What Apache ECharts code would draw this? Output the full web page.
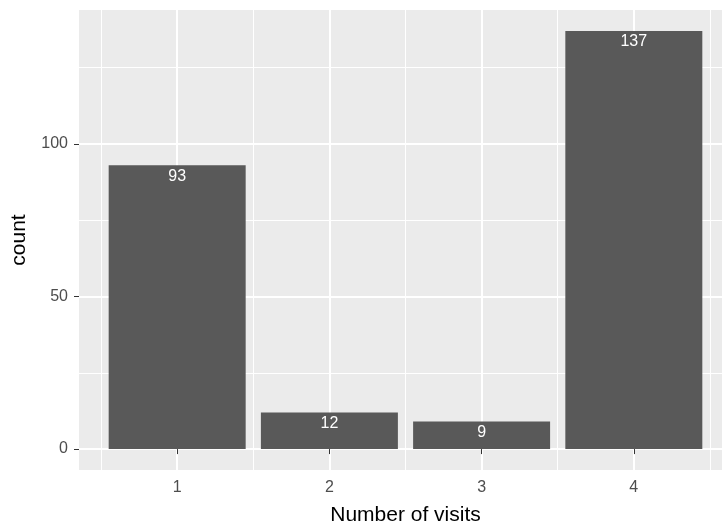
<!DOCTYPE html>
<html>
<head>
<meta charset="utf-8">
<style>
  html, body { margin: 0; padding: 0; background: #ffffff; }
  #chart { width: 722px; height: 527px; }
</style>
<script src="https://cdn.jsdelivr.net/npm/echarts@6/dist/echarts.min.js"></script>
</head>
<body>
<div id="chart"></div>
<script>
// ---- data ----
const visits = [1, 2, 3, 4];
const counts = [93, 12, 9, 137];
const xMajorTicks = [1, 2, 3, 4];
const xMinorTicks = [0.5, 1.5, 2.5, 3.5, 4.5];
const yMajorTicks = [0, 50, 100];
const yMinorTicks = [25, 75, 125];

// ---- scale setup (ggplot-like continuous expansion) ----
const barFrac = 0.9;
const xMin = 0.355, xMax = 4.645;
const yMin = -6.85, yMax = 143.85;
const gridLeft = 79, gridTop = 10, gridWidth = 653, gridHeight = 460;
const barPx = barFrac * gridWidth / (xMax - xMin);

const font = 'Liberation Sans, Arial, Helvetica, sans-serif';

const chart = echarts.init(document.getElementById('chart'), null, { renderer: 'canvas' });
chart.setOption({
  animation: false,
  backgroundColor: '#ffffff',
  grid: {
    left: gridLeft, top: gridTop, width: gridWidth, height: gridHeight,
    show: true, backgroundColor: '#EBEBEB', borderWidth: 0,
    containLabel: false, outerBoundsMode: 'none'
  },
  xAxis: [
    {
      type: 'value', min: xMin, max: xMax, gridIndex: 0,
      name: 'Number of visits', nameLocation: 'middle', nameGap: 35,
      nameTextStyle: { color: '#000000', fontSize: 21, fontFamily: font },
      axisLine: { show: false },
      axisTick: { show: true, length: 5, customValues: xMajorTicks, lineStyle: { color: '#333333', width: 1 } },
      axisLabel: { customValues: xMajorTicks, color: '#4D4D4D', fontSize: 16, fontFamily: font, margin: 10 },
      splitLine: { show: true, lineStyle: { color: '#FFFFFF', width: 2 } }
    },
    {
      type: 'value', min: xMin, max: xMax, gridIndex: 0, position: 'bottom',
      axisLine: { show: false },
      axisTick: { show: false, customValues: xMinorTicks },
      axisLabel: { show: false, customValues: xMinorTicks },
      splitLine: { show: true, lineStyle: { color: '#FFFFFF', width: 1 } }
    }
  ],
  yAxis: [
    {
      type: 'value', min: yMin, max: yMax, gridIndex: 0,
      name: 'count', nameLocation: 'middle', nameGap: 49, nameRotate: 90,
      nameTextStyle: { color: '#000000', fontSize: 21, fontFamily: font },
      axisLine: { show: false },
      axisTick: { show: true, length: 5, customValues: yMajorTicks, lineStyle: { color: '#333333', width: 1 } },
      axisLabel: { customValues: yMajorTicks, color: '#4D4D4D', fontSize: 16, fontFamily: font, margin: 11 },
      splitLine: { show: true, lineStyle: { color: '#FFFFFF', width: 2 } }
    },
    {
      type: 'value', min: yMin, max: yMax, gridIndex: 0, position: 'left',
      axisLine: { show: false },
      axisTick: { show: false, customValues: yMinorTicks },
      axisLabel: { show: false, customValues: yMinorTicks },
      splitLine: { show: true, lineStyle: { color: '#FFFFFF', width: 1 } }
    }
  ],
  series: [{
    type: 'bar',
    xAxisIndex: 0, yAxisIndex: 0,
    data: visits.map((v, i) => [v, counts[i]]),
    barWidth: barPx,
    itemStyle: { color: '#595959' },
    label: {
      show: true, position: 'insideTop', distance: 3,
      color: '#FFFFFF', fontSize: 16, fontFamily: font,
      formatter: p => String(p.value[1])
    }
  }]
});
</script>
</body>
</html>
